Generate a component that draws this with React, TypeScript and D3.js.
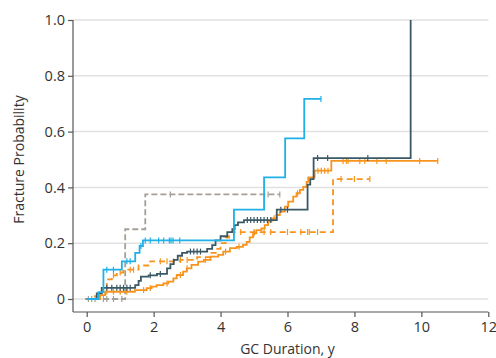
import { useEffect, useRef } from 'react';
import * as d3 from 'd3';

type Step = [number, number];

interface Series {
  name: string;
  color: string;
  dash: string | null;
  steps: Step[];
  end: number;
  censors: number[];
}

// step points: [time, cumulative probability]
const blueSteps: Step[] = [
  [0, 0], [0.35, 0.025], [0.5, 0.105], [1.05, 0.135], [1.45, 0.165], [1.58, 0.19],
  [1.68, 0.21], [4.4, 0.32], [5.3, 0.436], [5.93, 0.576], [6.5, 0.717],
];
const blueCensors = [0.6, 0.8, 1.2, 1.3, 1.62, 1.75, 1.9, 2.15, 2.3, 2.47, 2.52, 2.58, 2.78, 7.0];

const darkSteps: Step[] = [
  [0, 0], [0.3, 0.02], [0.45, 0.04], [1.45, 0.05], [1.55, 0.065], [1.62, 0.08], [1.85, 0.085],
  [2.1, 0.09], [2.4, 0.11], [2.5, 0.125], [2.6, 0.14], [2.72, 0.155], [2.85, 0.165], [3.0, 0.17],
  [3.6, 0.18], [3.75, 0.193], [3.85, 0.21], [4.0, 0.225], [4.2, 0.24], [4.35, 0.25], [4.42, 0.265],
  [4.52, 0.275], [4.7, 0.283], [5.68, 0.32], [6.6, 0.41], [6.68, 0.43], [6.78, 0.505], [9.68, 1.0],
];
const darkCensors = [
  0.6, 0.75, 0.9, 1.0, 1.1, 1.2, 1.3, 1.9, 2.2, 3.1, 3.2, 3.3, 3.4, 4.8, 4.9, 5.0, 5.1, 5.2, 5.3,
  5.4, 5.5, 5.8, 6.0, 6.9, 7.2, 8.4,
];

const orangeSteps: Step[] = [
  [0, 0], [0.4, 0.014], [0.55, 0.026], [1.44, 0.032], [1.79, 0.039], [1.94, 0.044], [2.09, 0.05],
  [2.29, 0.056], [2.44, 0.062], [2.59, 0.074], [2.69, 0.086], [2.88, 0.098], [2.99, 0.11],
  [3.13, 0.122], [3.33, 0.134], [3.5, 0.14], [3.7, 0.152], [3.93, 0.158], [4.08, 0.17],
  [4.28, 0.182], [4.48, 0.187], [4.67, 0.194], [4.78, 0.205], [4.87, 0.221], [4.97, 0.235],
  [5.07, 0.247], [5.22, 0.253], [5.32, 0.265], [5.42, 0.277], [5.52, 0.289], [5.67, 0.301],
  [5.77, 0.313], [5.92, 0.331], [6.02, 0.349], [6.17, 0.367], [6.27, 0.379], [6.37, 0.391],
  [6.47, 0.402], [6.57, 0.42], [6.62, 0.436], [6.81, 0.46], [7.31, 0.495],
];
const orangeCensors = [
  0.6, 0.8, 1.0, 1.2, 1.7, 1.9, 2.4, 2.8, 3.0, 3.55, 4.15, 4.55, 5.0, 5.6, 6.3, 6.91, 7.01,
  7.11, 7.21, 7.66, 7.76, 7.81, 8.16, 8.31, 8.67, 8.95, 9.95, 10.49,
];

const orangeDashSteps: Step[] = [
  [0, 0], [0.2, 0.01], [0.45, 0.04], [0.6, 0.07], [0.75, 0.085], [0.9, 0.095], [1.1, 0.105],
  [1.55, 0.12], [1.9, 0.135], [2.8, 0.14], [3.3, 0.15], [3.7, 0.165], [3.9, 0.18], [4.0, 0.2],
  [4.15, 0.22], [4.25, 0.24], [7.36, 0.43],
];
const orangeDashCensors = [
  0.8, 1.0, 1.3, 1.4, 2.2, 2.4, 2.6, 2.8, 3.0, 4.4, 4.6, 5.0, 5.3, 5.5, 6.0, 6.4, 6.6, 6.65,
  6.9, 7.6, 8.0, 8.46,
];

const graySteps: Step[] = [[-0.05, 0], [1.15, 0.25], [1.75, 0.375]];
const grayCensors = [0.05, 0.15, 0.25, 0.5, 0.6, 0.8, 1.05, 2.5, 5.42, 5.77];

const xTicks = [0, 2, 4, 6, 8, 10, 12];
const yTicks = [0, 0.2, 0.4, 0.6, 0.8, 1.0];

const series: Series[] = [
  { name: 'gray', color: '#a59f97', dash: '6,3', steps: graySteps, end: 5.77, censors: grayCensors },
  { name: 'orangeDash', color: '#f7941e', dash: '6,4', steps: orangeDashSteps, end: 8.46, censors: orangeDashCensors },
  { name: 'orange', color: '#f7941e', dash: null, steps: orangeSteps, end: 10.49, censors: orangeCensors },
  { name: 'dark', color: '#3b5866', dash: null, steps: darkSteps, end: 9.68, censors: darkCensors },
  { name: 'blue', color: '#1fb0e8', dash: null, steps: blueSteps, end: 7.0, censors: blueCensors },
];

const W = 496;
const H = 358;
const FONT = '"Open Sans", sans-serif';

export default function App() {
  const ref = useRef<SVGSVGElement>(null);

  useEffect(() => {
    if (!ref.current) return;
    const svg = d3.select(ref.current);
    svg.selectAll('*').remove();

    const x = d3.scaleLinear().domain([0, 12]).range([86.7, 488.3]);
    const y = d3.scaleLinear().domain([0, 1]).range([299, 20]);
    const axisX = 73;
    const axisY = 312;

    // grid
    svg.append('g')
      .selectAll('line')
      .data(yTicks)
      .join('line')
      .attr('x1', axisX)
      .attr('x2', x(12))
      .attr('y1', d => y(d))
      .attr('y2', d => y(d))
      .attr('stroke', '#e1e1e1')
      .attr('stroke-width', 1.5);

    // y axis
    const yAxis = svg.append('g')
      .attr('transform', `translate(${axisX},0)`)
      .call(d3.axisLeft(y).tickValues(yTicks).tickSize(5).tickSizeOuter(0)
        .tickFormat(d => (d === 0 ? '0' : d3.format('.1f')(d as number))));
    yAxis.select('.domain').attr('d', `M0,${y(1)}V${axisY}`);
    yAxis.selectAll('text').attr('font-family', FONT).attr('font-size', 14.5).attr('fill', '#333').attr('x', -8);
    yAxis.selectAll('line, path').attr('stroke', '#555').attr('stroke-width', 1.2);

    // x axis
    const xAxis = svg.append('g')
      .attr('transform', `translate(0,${axisY})`)
      .call(d3.axisBottom(x).tickValues(xTicks).tickSize(5).tickSizeOuter(0));
    xAxis.select('.domain').attr('d', `M${axisX},0H${x(12)}`);
    xAxis.selectAll('text').attr('font-family', FONT).attr('font-size', 14.5).attr('fill', '#333').attr('y', 10);
    xAxis.selectAll('line, path').attr('stroke', '#555').attr('stroke-width', 1.2);

    // series
    const line = d3.line<Step>().x(d => x(d[0])).y(d => y(d[1])).curve(d3.curveStepAfter);
    const yAt = (s: Series, t: number) => {
      let v = 0;
      for (const p of s.steps) if (p[0] <= t) v = p[1];
      return v;
    };

    series.forEach(s => {
      const last = s.steps[s.steps.length - 1];
      const pts: Step[] = last[0] >= s.end ? s.steps : [...s.steps, [s.end, last[1]]];
      const g = svg.append('g');
      g.append('path')
        .attr('d', line(pts))
        .attr('fill', 'none')
        .attr('stroke', s.color)
        .attr('stroke-width', 1.8)
        .attr('stroke-dasharray', s.dash);
      g.selectAll('line')
        .data(s.censors)
        .join('line')
        .attr('x1', d => x(d))
        .attr('x2', d => x(d))
        .attr('y1', d => y(yAt(s, d)) - 3)
        .attr('y2', d => y(yAt(s, d)) + 3)
        .attr('stroke', s.color)
        .attr('stroke-width', 1.2);
    });

    // titles
    svg.append('text')
      .attr('x', x(6))
      .attr('y', 354)
      .attr('text-anchor', 'middle')
      .attr('font-family', FONT)
      .attr('font-size', 14)
      .attr('fill', '#333')
      .text('GC Duration, y');

    svg.append('text')
      .attr('transform', `translate(24,${y(0.5)}) rotate(-90)`)
      .attr('text-anchor', 'middle')
      .attr('font-family', FONT)
      .attr('font-size', 14)
      .attr('fill', '#333')
      .text('Fracture Probability');
  }, []);

  return (
    <svg
      ref={ref}
      width={W}
      height={H}
      style={{ position: 'absolute', left: 0, top: 0, background: '#fff' }}
    />
  );
}
